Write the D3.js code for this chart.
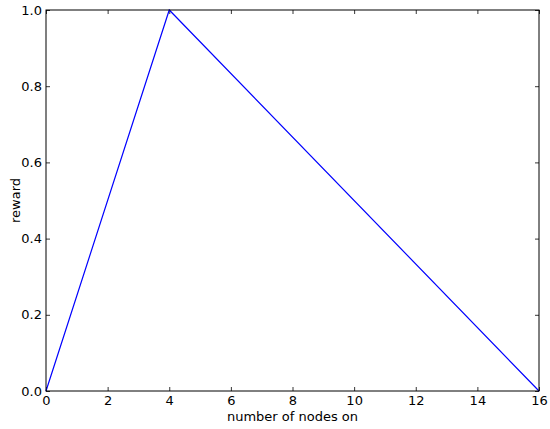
<!DOCTYPE html>
<html><head><meta charset="utf-8">
<script src="https://cdn.jsdelivr.net/npm/d3@7"></script>
<style>body{margin:0;background:#fff}svg{display:block}text{font-family:"DejaVu Sans",sans-serif}</style>
</head><body>
<script>
const xValues = [0, 4, 16];
const rewardValues = [0, 1, 0];
const xTicks = [0, 2, 4, 6, 8, 10, 12, 14, 16];
const yTicks = [0, 0.2, 0.4, 0.6, 0.8, 1.0];

const W = 550, H = 429;
const m = {left: 46, right: 11, top: 10, bottom: 38};
const svg = d3.select("body").append("svg").attr("width", W).attr("height", H);
const x = d3.scaleLinear().domain([0, 16]).range([m.left, W - m.right]);
const y = d3.scaleLinear().domain([0, 1]).range([H - m.bottom, m.top]);

const fs = 13;
function styleAxis(g){
  g.select(".domain").remove();
  g.selectAll("line").attr("stroke", "#000").attr("stroke-width", 0.8);
  g.selectAll("text").attr("font-size", fs).attr("fill", "#000");
}
svg.append("g").attr("transform", `translate(0,${H - m.bottom})`)
  .call(d3.axisBottom(x).tickValues(xTicks).tickFormat(d3.format("d")).tickSizeInner(-4).tickPadding(5))
  .call(styleAxis);
svg.append("g").attr("transform", `translate(0,${m.top})`)
  .call(d3.axisTop(x).tickValues(xTicks).tickFormat("").tickSizeInner(-4))
  .call(styleAxis);
svg.append("g").attr("transform", `translate(${m.left},0)`)
  .call(d3.axisLeft(y).tickValues(yTicks).tickFormat(d3.format(".1f")).tickSizeInner(-4).tickPadding(4))
  .call(styleAxis);
svg.append("g").attr("transform", `translate(${W - m.right},0)`)
  .call(d3.axisRight(y).tickValues(yTicks).tickFormat("").tickSizeInner(-4))
  .call(styleAxis);

const data = xValues.map((d, i) => [d, rewardValues[i]]);
svg.append("path").datum(data)
  .attr("fill", "none").attr("stroke", "#0000ff").attr("stroke-width", 1.2)
  .attr("d", d3.line().x(d => x(d[0])).y(d => y(d[1])));

svg.append("rect").attr("x", m.left).attr("y", m.top)
  .attr("width", W - m.left - m.right).attr("height", H - m.top - m.bottom)
  .attr("fill", "none").attr("stroke", "#000").attr("stroke-width", 1);

svg.append("text").attr("x", (m.left + W - m.right) / 2).attr("y", H - 8)
  .attr("text-anchor", "middle").attr("font-size", fs).text("number of nodes on");
svg.append("text").attr("transform", `translate(20,${(m.top + H - m.bottom) / 2}) rotate(-90)`)
  .attr("text-anchor", "middle").attr("font-size", fs).text("reward");
</script>
</body></html>
